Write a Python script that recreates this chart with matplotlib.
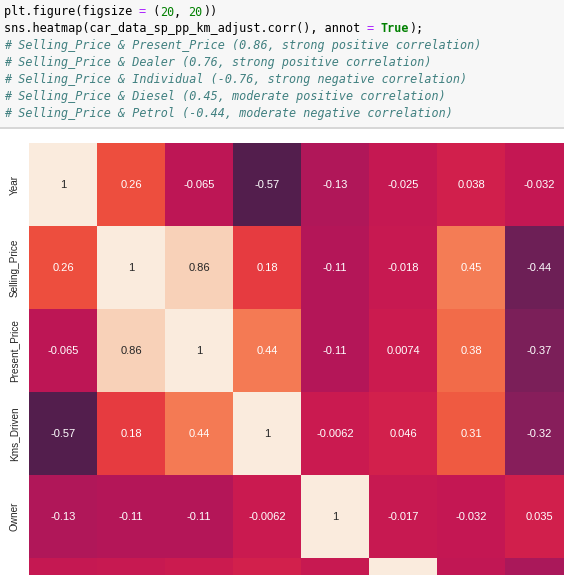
import matplotlib
matplotlib.use('Agg')
import matplotlib.pyplot as plt
import seaborn as sns
import pandas as pd
from matplotlib.patches import Rectangle

# visible part of the correlation matrix (screenshot is cropped)
columns = ['Year', 'Selling_Price', 'Present_Price', 'Kms_Driven', 'Owner',
           'CNG', 'Diesel', 'Petrol']
rows = ['Year', 'Selling_Price', 'Present_Price', 'Kms_Driven', 'Owner', 'CNG']
year = [1, 0.26, -0.065, -0.57, -0.13, -0.025, 0.038, -0.032]
selling_price = [0.26, 1, 0.86, 0.18, -0.11, -0.018, 0.45, -0.44]
present_price = [-0.065, 0.86, 1, 0.44, -0.11, 0.0074, 0.38, -0.37]
kms_driven = [-0.57, 0.18, 0.44, 1, -0.0062, 0.046, 0.31, -0.32]
owner = [-0.13, -0.11, -0.11, -0.0062, 1, -0.017, -0.032, 0.035]
cng = [-0.025, -0.018, 0.0074, 0.046, -0.017, 1, -0.05, -0.16]

corr = pd.DataFrame([year, selling_price, present_price, kms_driven, owner, cng],
                    index=rows, columns=columns)

# notebook cell text above the plot
code_lines = [
    [('plt.figure(figsize ', '#000000', 'normal', 'normal'), ('=', '#aa22ff', 'normal', 'normal'),
     (' (', '#000000', 'normal', 'normal'), ('20', '#008000', 'normal', 'normal'),
     (', ', '#000000', 'normal', 'normal'), ('20', '#008000', 'normal', 'normal'),
     ('))', '#000000', 'normal', 'normal')],
    [('sns.heatmap(car_data_sp_pp_km_adjust.corr(), annot ', '#000000', 'normal', 'normal'),
     ('=', '#aa22ff', 'normal', 'normal'), (' ', '#000000', 'normal', 'normal'),
     ('True', '#008000', 'normal', 'bold'), (');', '#000000', 'normal', 'normal')],
    [('# Selling_Price & Present_Price (0.86, strong positive correlation)', '#408080', 'italic', 'normal')],
    [('# Selling_Price & Dealer (0.76, strong positive correlation)', '#408080', 'italic', 'normal')],
    [('# Selling_Price & Individual (-0.76, strong negative correlation)', '#408080', 'italic', 'normal')],
    [('# Selling_Price & Diesel (0.45, moderate positive correlation)', '#408080', 'italic', 'normal')],
    [('# Selling_Price & Petrol (-0.44, moderate negative correlation)', '#408080', 'italic', 'normal')],
]

sns.set_theme()
plt.rcParams['font.family'] = ['Liberation Sans', 'DejaVu Sans']

W, H = 564, 575
fig = plt.figure(figsize=(W / 100, H / 100), dpi=100)
fig.patch.set_facecolor('white')

# code cell background + bottom border
fig.patches.append(Rectangle((0, 1 - 127 / H), 1, 127 / H, transform=fig.transFigure,
                             facecolor='#f7f7f7', edgecolor='none', zorder=0))
fig.lines.append(plt.Line2D([0, 1], [1 - 127.5 / H] * 2, transform=fig.transFigure,
                            color='#cfcfcf', lw=1.2))

char_w = 7.1
for i, segs in enumerate(code_lines):
    y = 12 + i * 16.9
    col = 0
    for txt, color, style, weight in segs:
        fig.text((4 + col * char_w) / W, 1 - y / H, txt, color=color, fontstyle=style,
                 fontweight=weight, family='DejaVu Sans Mono', fontsize=8.5, va='center',
                 ha='left')
        col += len(txt)

# heatmap, cropped like the screenshot
left, top = 29, 143
cell_w, cell_h = 68, 83
ax = fig.add_axes([left / W, 0, (W - left) / W, (H - top) / H])
sns.heatmap(corr, annot=True, vmin=-1, vmax=1, cbar=False, ax=ax,
            annot_kws={'size': 8})
ax.set_xticks([])
ax.set_yticks([r + 0.5 for r in range(len(rows))])
ax.set_yticklabels(rows, rotation=90, va='center', fontsize=7.2, color='#262626')
ax.tick_params(axis='y', length=0, pad=7)
# limits last, after the ticks, so the crop holds
ymax = (H - top) / cell_h
ax.set_xlim(0, (W - left) / cell_w)
ax.set_ylim(ymax, 0)

# labels of the cut-off row are not in the screenshot
for t in ax.texts:
    if t.get_position()[1] > ymax:
        t.set_visible(False)
for lab in ax.get_yticklabels():
    if lab.get_text() == 'CNG':
        lab.set_visible(False)

fig.savefig('out.png', dpi=100)
